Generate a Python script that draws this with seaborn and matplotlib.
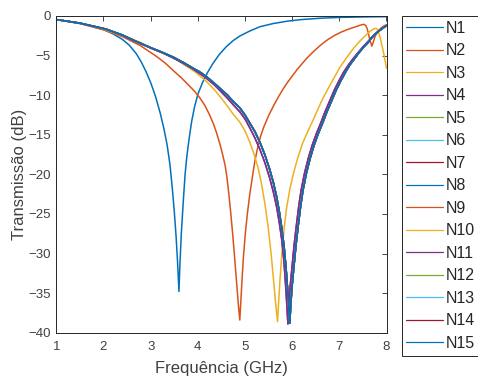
import numpy as np
import pandas as pd
import matplotlib
matplotlib.use("Agg")
import matplotlib.pyplot as plt
import seaborn as sns

# Cores padrão do MATLAB (ciclo de 7)
cores_matlab = ['#0072BD', '#D95319', '#EDB120', '#7E2F8E', '#77AC30', '#4DBEEE', '#A2142F']

# Curva N1
freq_n1 = [1.0, 1.25, 1.5, 1.75, 2.0, 2.2, 2.4, 2.55, 2.7, 2.8, 2.9, 3.0, 3.1, 3.2, 3.28,
           3.35, 3.41, 3.46, 3.5, 3.54, 3.57, 3.60, 3.62, 3.65, 3.69, 3.73, 3.77, 3.82,
           3.87, 3.93, 4.0, 4.1, 4.2, 4.32, 4.45, 4.6, 4.75, 4.9, 5.1, 5.32, 5.6, 5.9,
           6.2, 6.6, 7.0, 7.5, 8.0]
trans_n1 = [-0.45, -0.7, -0.95, -1.3, -1.7, -2.25, -2.95, -3.7, -4.8, -5.8, -7.0, -8.4,
            -10.1, -12.2, -14.2, -16.3, -18.8, -21.8, -24.6, -27.9, -31.0, -34.8, -31.5,
            -27.5, -23.6, -20.0, -17.6, -15.3, -13.3, -11.5, -9.9, -8.4, -7.2, -6.0, -4.9,
            -3.9, -3.1, -2.5, -1.9, -1.35, -0.95, -0.65, -0.45, -0.28, -0.18, -0.12, -0.08]

# Curva N2
freq_n2 = [1.0, 1.5, 2.0, 2.4, 2.77, 3.1, 3.3, 3.5, 3.65, 3.8, 3.93, 4.05, 4.15, 4.25, 4.33,
           4.4, 4.47, 4.53, 4.58, 4.62, 4.66, 4.7, 4.74, 4.78, 4.82, 4.86, 4.89, 4.91, 4.94,
           4.97, 5.01, 5.05, 5.1, 5.15, 5.21, 5.27, 5.33, 5.4, 5.5, 5.6, 5.7, 5.8, 5.9, 6.0,
           6.1, 6.2, 6.3, 6.45, 6.6, 6.75, 6.9, 7.05, 7.2, 7.35, 7.45, 7.52, 7.56, 7.59,
           7.62, 7.65, 7.69, 7.72, 7.75, 7.79, 7.85, 7.92, 8.0]
trans_n2 = [-0.45, -0.95, -1.75, -2.6, -3.7, -5.0, -5.9, -7.0, -7.8, -8.7, -9.5, -10.4,
            -11.3, -12.5, -13.6, -14.8, -16.2, -17.6, -18.9, -20.5, -22.6, -25.0, -27.6,
            -30.5, -33.5, -36.5, -38.4, -36.3, -33.0, -30.2, -27.3, -25.0, -22.6, -20.6,
            -18.3, -16.6, -15.2, -14.0, -12.6, -11.4, -10.3, -9.3, -8.4, -7.6, -6.8, -6.1,
            -5.4, -4.5, -3.7, -3.0, -2.45, -2.0, -1.65, -1.35, -1.15, -1.05, -1.2, -1.6,
            -2.3, -3.1, -3.8, -3.3, -2.7, -2.2, -1.7, -1.35, -1.1]

# Curva N3
freq_n3 = [1.0, 1.5, 2.0, 2.4, 2.77, 3.1, 3.3, 3.54, 3.75, 3.95, 4.19, 4.35, 4.5, 4.63,
           4.75, 4.89, 5.0, 5.1, 5.2, 5.28, 5.35, 5.42, 5.49, 5.55, 5.6, 5.65, 5.69, 5.71,
           5.74, 5.78, 5.83, 5.88, 5.95, 6.03, 6.12, 6.22, 6.33, 6.44, 6.55, 6.66, 6.76,
           6.88, 7.01, 7.15, 7.3, 7.43, 7.55, 7.65, 7.72, 7.78, 7.82, 7.86, 7.9, 7.95, 8.0]
trans_n3 = [-0.45, -0.9, -1.65, -2.5, -3.3, -4.3, -4.8, -5.5, -6.3, -7.1, -8.3, -9.3,
            -10.4, -11.4, -12.4, -13.4, -14.5, -15.9, -17.6, -19.2, -21.2, -23.6, -26.6,
            -29.8, -33.0, -36.3, -38.6, -36.5, -33.5, -30.2, -26.8, -24.3, -21.9, -19.8,
            -17.9, -16.1, -14.6, -13.2, -11.7, -10.3, -9.2, -7.9, -6.5, -5.3, -4.1, -3.2,
            -2.5, -1.95, -1.65, -1.55, -1.8, -2.6, -3.6, -5.0, -6.6]

# Curvas N4 e N11 (roxas)
freq_roxo = [1.0, 1.5, 2.05, 2.4, 2.69, 3.0, 3.25, 3.48, 3.7, 3.9, 4.05, 4.19, 4.35, 4.5,
             4.63, 4.75, 4.89, 5.0, 5.1, 5.21, 5.32, 5.42, 5.52, 5.6, 5.67, 5.73, 5.78,
             5.82, 5.85, 5.88, 5.91, 5.93, 5.96, 6.0, 6.04, 6.09, 6.14, 6.19, 6.26, 6.34,
             6.42, 6.51, 6.6, 6.69, 6.79, 6.89, 6.99, 7.09, 7.19, 7.29, 7.4, 7.5, 7.58,
             7.67, 7.75, 7.84, 7.93, 8.0]
trans_roxo = [-0.45, -0.9, -1.65, -2.45, -3.25, -4.05, -4.65, -5.3, -6.0, -6.7, -7.3, -7.9,
              -8.7, -9.6, -10.4, -11.2, -12.1, -13.0, -14.1, -15.4, -16.9, -18.5, -20.4,
              -22.2, -24.1, -26.2, -28.3, -30.6, -33.0, -35.8, -38.9, -36.6, -34.0, -31.5,
              -29.0, -26.4, -24.0, -22.0, -19.9, -18.0, -16.4, -14.9, -13.6, -12.2, -10.8,
              -9.4, -8.2, -7.1, -6.2, -5.4, -4.6, -3.9, -3.4, -2.8, -2.3, -1.85, -1.5, -1.2]

# Demais curvas (N5-N10, N12-N15), praticamente sobrepostas
freq_grupo = [1.0, 1.5, 2.05, 2.4, 2.69, 3.0, 3.25, 3.48, 3.7, 3.9, 4.05, 4.19, 4.35, 4.5,
              4.63, 4.75, 4.89, 5.0, 5.1, 5.21, 5.32, 5.42, 5.52, 5.6, 5.67, 5.73, 5.78,
              5.83, 5.87, 5.91, 5.95, 5.97, 6.0, 6.04, 6.08, 6.13, 6.18, 6.23, 6.3, 6.38,
              6.46, 6.55, 6.64, 6.73, 6.83, 6.93, 7.03, 7.13, 7.22, 7.32, 7.42, 7.52, 7.6,
              7.68, 7.76, 7.85, 7.93, 8.0]
trans_grupo = [-0.45, -0.9, -1.65, -2.4, -3.2, -4.0, -4.6, -5.2, -5.9, -6.6, -7.1, -7.7,
               -8.5, -9.3, -10.0, -10.8, -11.6, -12.5, -13.5, -14.6, -16.0, -17.5, -19.3,
               -21.0, -22.8, -24.8, -26.8, -29.2, -31.8, -35.0, -38.8, -36.5, -34.0, -31.5,
               -29.0, -26.4, -24.0, -22.0, -19.9, -18.0, -16.4, -14.9, -13.6, -12.2, -10.8,
               -9.4, -8.2, -7.1, -6.2, -5.4, -4.6, -3.9, -3.4, -2.8, -2.3, -1.85, -1.5, -1.2]

rotulos = [f'N{i}' for i in range(1, 16)]
curvas = {
    'N1': (freq_n1, trans_n1),
    'N2': (freq_n2, trans_n2),
    'N3': (freq_n3, trans_n3),
    'N4': (freq_roxo, trans_roxo),
    'N11': (freq_roxo, trans_roxo),
}

sns.set_style("white")
plt.rcParams['font.family'] = ['Liberation Sans', 'DejaVu Sans']

fig = plt.figure(figsize=(4.78, 3.76), dpi=100)
ax = fig.add_axes([56.3 / 478, 1 - 332.7 / 376, 330.2 / 478, 316.7 / 376])

cor_eixo = '#262626'
for i, nome in enumerate(rotulos):
    f, t = curvas.get(nome, (freq_grupo, trans_grupo))
    sns.lineplot(x=f, y=t, color=cores_matlab[i % 7], linewidth=1.1, label=nome,
                 sort=False, estimator=None, ax=ax)

ax.set_xlim(1, 8)
ax.set_ylim(-40, 0)
ax.set_xticks(range(1, 9))
ax.set_yticks(range(-40, 1, 5))
ax.tick_params(direction='in', length=3.5, width=0.6, top=True, right=True,
               labelsize=9.5, colors=cor_eixo, labelcolor='#404040')
ax.tick_params(axis='x', pad=6)
ax.tick_params(axis='y', pad=4)
for lado in ax.spines.values():
    lado.set_color(cor_eixo)
    lado.set_linewidth(0.7)

ax.set_xlabel('Frequência (GHz)', fontsize=12, color='#404040', labelpad=6)
ax.set_ylabel('Transmissão (dB)', fontsize=12, color='#404040', labelpad=1)

leg = ax.legend(loc='upper left', bbox_to_anchor=(401.5 / 478, 1 - 16 / 376),
                bbox_transform=fig.transFigure, fontsize=11.5, frameon=True,
                fancybox=False, framealpha=1, edgecolor=cor_eixo, borderaxespad=0,
                handlelength=2.3, handletextpad=0.15, labelspacing=0.47, borderpad=0.3)
leg.get_frame().set_linewidth(0.7)
for linha in leg.get_lines():
    linha.set_linewidth(0.9)

fig.savefig('out.png', dpi=100)
